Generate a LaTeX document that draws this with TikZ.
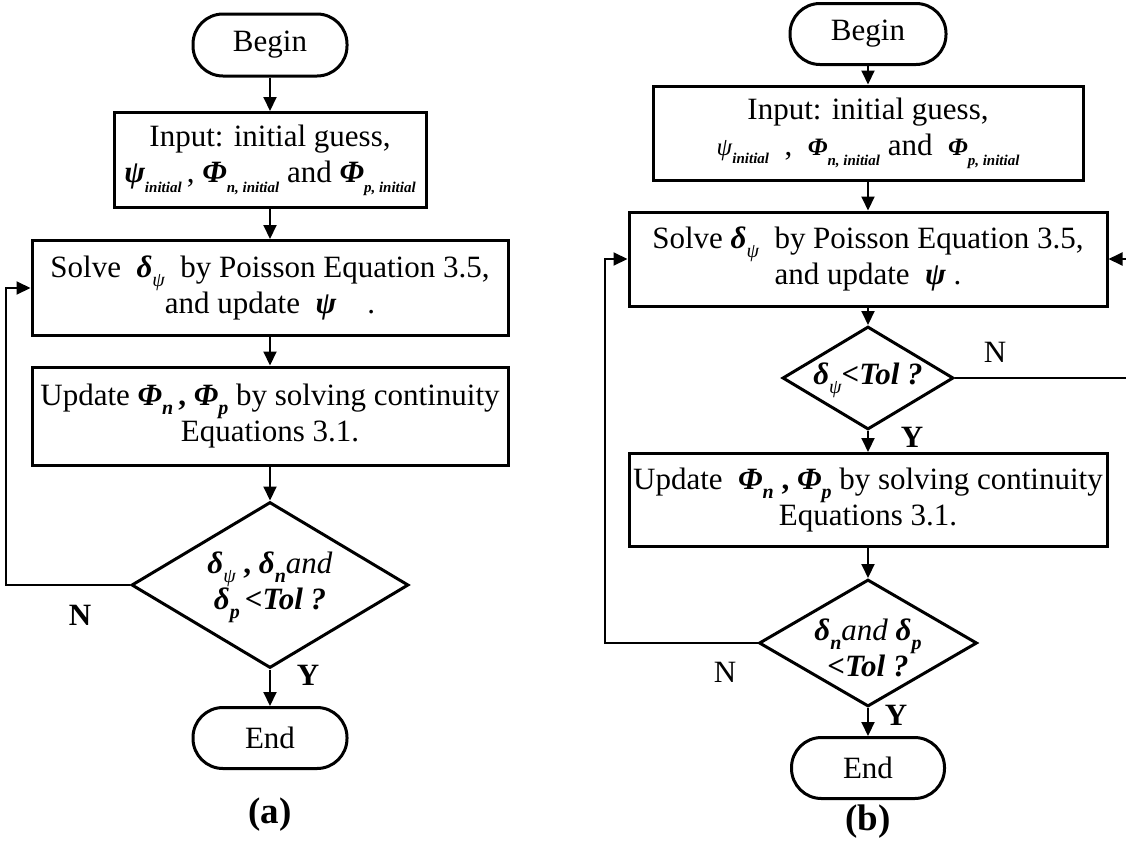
\documentclass[tikz,border=0pt]{standalone}
\usepackage{fontspec}
\setmainfont{Liberation Serif}
\usetikzlibrary{arrows.meta,shapes.geometric}
\newcommand{\bi}[1]{{\bfseries\itshape #1}}
\newcommand{\sbs}[1]{\raisebox{-0.32em}{\fontsize{15}{15}\selectfont #1}}
\newcommand{\sbn}[1]{\raisebox{-0.3em}{\fontsize{20}{20}\selectfont #1}}
\newcommand{\smg}[1]{{\fontsize{25}{30}\selectfont #1}}
\begin{document}
\begin{tikzpicture}[x=1pt,y=-1pt,
  every node/.style={font=\fontsize{31}{36}\selectfont},
  box/.style={draw, line width=3pt, rectangle, inner sep=1pt, align=center},
  term/.style={draw, line width=3pt, rounded corners=30pt, align=center},
  dia/.style={draw, line width=3pt, diamond, inner sep=0pt},
  arr/.style={line width=2pt, -{Triangle[length=14pt,width=13pt]}},
  yn/.style={font=\fontsize{31}{36}\selectfont\bfseries},
  nn/.style={font=\fontsize{31}{36}\selectfont},
  figcap/.style={font=\fontsize{37}{40}\selectfont\bfseries},
]
\useasboundingbox (0,0) rectangle (1126,841);
\clip (0,0) rectangle (1126,841);
% ---------------- (a) ----------------
\node[term, minimum width=154, minimum height=62] (a0) at (270,45) {Begin};
\node[box, minimum width=312, minimum height=95] (a1) at (270,160)
  {Input: initial guess,\\ \bi{ψ}\sbs{\bi{initial}}\,, \bi{Φ}\sbs{\bi{n, initial}} and \bi{Φ}\sbs{\bi{p, initial}}};
\node[box, minimum width=476, minimum height=95] (a2) at (270,288)
  {Solve \ \bi{δ}\sbn{\itshape ψ}\ \ by Poisson Equation 3.5,\\ and update \ \bi{ψ}\quad .};
\node[box, minimum width=476, minimum height=98] (a3) at (270,416)
  {Update \bi{Φ}\sbn{\bi{n}}\,\textbf{,} \bi{Φ}\sbn{\bi{p}} by solving continuity\\ Equations 3.1.};
\node[dia, minimum width=277, minimum height=166] (a4) at (270,585) {};
\node[align=center] (a4t) at (270,587)
  {\bi{δ}\sbn{\itshape ψ} \textbf{,} \bi{δ}\sbn{\bi{n}}\textit{and}\\ \bi{δ}\sbn{\bi{p}}\,\bi{<Tol ?}};
\node[term, minimum width=154, minimum height=61] (a5) at (270,738) {End};
\node[figcap] (alab) at (270,815) {(a)};
\draw[arr] (a0) -- (a1);
\draw[arr] (a1) -- (a2);
\draw[arr] (a2) -- (a3);
\draw[arr] (a3) -- (a4);
\draw[arr] (a4) -- (a5);
\draw[arr] (a4.west) -- ++(-124,0) |- (a2.west);
\node[yn] (aN) at (80,615) {N};
\node[yn] (aY) at (308,675) {Y};
% ---------------- (b) ----------------
\node[term, minimum width=156, minimum height=61] (b0) at (868,34) {Begin};
\node[box, minimum width=430, minimum height=94] (b1) at (868,133)
  {Input: initial guess,\\ \smg{\textit{ψ}\sbs{\bi{initial}}}\ \ ,\ \ \smg{\bi{Φ}}\sbs{\bi{n, initial}} and \ \smg{\bi{Φ}}\sbs{\bi{p, initial}}};
\node[box, minimum width=478, minimum height=94] (b2) at (868,259)
  {Solve \bi{δ}\sbn{\itshape ψ}\ \ by Poisson Equation 3.5,\\ and update \ \bi{ψ}\ .};
\node[dia, minimum width=171, minimum height=103] (b3) at (868,378) {};
\node (b3t) at (868,380) {\bi{δ}\sbn{\itshape ψ}\bi{<Tol ?}};
\node[box, minimum width=478, minimum height=93] (b4) at (868,500)
  {Update \ \bi{Φ}\sbn{\bi{n}}\ \textbf{,} \bi{Φ}\sbn{\bi{p}} by solving continuity\\ Equations 3.1.};
\node[dia, minimum width=218, minimum height=127] (b5) at (868,643) {};
\node[align=center] (b5t) at (868,648)
  {\bi{δ}\sbn{\bi{n}}\textit{and} \bi{δ}\sbn{\bi{p}}\\ \bi{<Tol ?}};
\node[term, minimum width=153, minimum height=61] (b6) at (868,768) {End};
\node[figcap] (blab) at (868,822) {(b)};
\draw[arr] (b0) -- (b1);
\draw[arr] (b1) -- (b2);
\draw[arr] (b2) -- (b3);
\draw[arr] (b3) -- (b4);
\draw[arr] (b4) -- (b5);
\draw[arr] (b5) -- (b6);
\draw[arr] (b5.west) -- ++(-153,0) |- (b2.west);
\draw[arr] (b3.east) -- ++(178,0) |- (b2.east);
\node[nn] (bN1) at (995,352) {N};
\node[yn] (bY1) at (912,437) {Y};
\node[nn] (bN2) at (725,672) {N};
\node[yn] (bY2) at (896,715) {Y};
\end{tikzpicture}
\end{document}
